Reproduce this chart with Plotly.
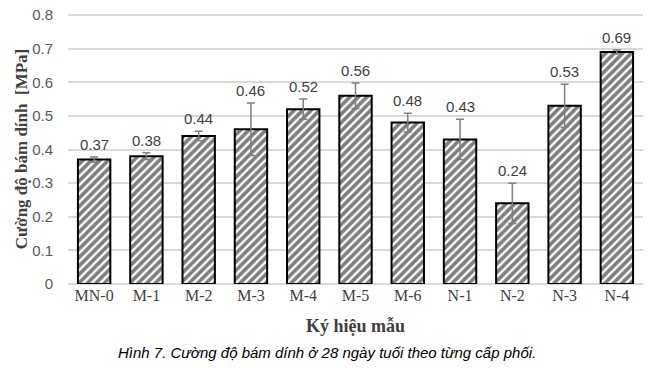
import plotly.graph_objects as go

categories = ["MN-0", "M-1", "M-2", "M-3", "M-4", "M-5", "M-6", "N-1", "N-2", "N-3", "N-4"]
values = [0.37, 0.38, 0.44, 0.46, 0.52, 0.56, 0.48, 0.43, 0.24, 0.53, 0.69]
errors = [0.008, 0.01, 0.014, 0.078, 0.03, 0.038, 0.028, 0.06, 0.06, 0.064, 0.006]
labels = ["0.37", "0.38", "0.44", "0.46", "0.52", "0.56", "0.48", "0.43", "0.24", "0.53", "0.69"]
y_ticks = [0, 0.1, 0.2, 0.3, 0.4, 0.5, 0.6, 0.7, 0.8]
y_tick_text = ["0", "0.1", "0.2", "0.3", "0.4", "0.5", "0.6", "0.7", "0.8"]

fig = go.Figure()
fig.add_trace(go.Bar(
    x=categories, y=values,
    width=0.62,
    marker=dict(color="white", line=dict(color="black", width=2),
                pattern=dict(shape="/", fgcolor="black", bgcolor="white", size=6, solidity=0.62)),
    error_y=dict(type="data", array=errors, visible=True, color="#7f7f7f", thickness=1.5, width=4),
    showlegend=False,
))

annotations = []
for c, v, e, t in zip(categories, values, errors, labels):
    annotations.append(dict(
        x=c, y=v + e, xref="x", yref="y", text=t, showarrow=False,
        yanchor="bottom", yshift=2,
        font=dict(family="Liberation Sans, Arial", size=15, color="#404040"),
    ))
annotations.append(dict(
    text="<i>Hình 7. Cường độ bám dính ở 28 ngày tuổi theo từng cấp phối.</i>",
    xref="paper", yref="paper", x=0.45, xanchor="center",
    y=-0.253, yanchor="middle", showarrow=False,
    font=dict(family="Liberation Sans, Arial", size=15, color="black"),
))

fig.update_layout(
    width=650, height=369,
    margin=dict(l=68, r=7, t=14, b=85, autoexpand=False),
    paper_bgcolor="white", plot_bgcolor="white",
    xaxis=dict(
        automargin=False,
        tickfont=dict(family="Liberation Serif, Times New Roman", size=16, color="#404040"),
        showgrid=False, showline=False, ticks="",
        title=dict(text="<b>Ký hiệu mẫu</b>", font=dict(family="Liberation Serif, Times New Roman", size=18, color="#404040"), standoff=16),
    ),
    yaxis=dict(
        automargin=False,
        range=[0, 0.803], tickvals=y_ticks, ticktext=y_tick_text,
        tickfont=dict(family="Liberation Sans, Arial", size=15, color="#595959"),
        showgrid=True, gridcolor="#d9d9d9", gridwidth=1.5,
        zeroline=True, zerolinecolor="#d9d9d9", zerolinewidth=1.5,
        showline=False, ticks="", ticklabelstandoff=14,
        title=dict(text="<b>Cường độ bám dính  [MPa]</b>", font=dict(family="Liberation Serif, Times New Roman", size=17, color="#404040"), standoff=0),
    ),
    annotations=annotations,
)

# remove the page's default 8px body margin so the figure fills the window
fig.write_html("out.html", config={"displayModeBar": False},
               post_script="document.body.style.margin='0';")
